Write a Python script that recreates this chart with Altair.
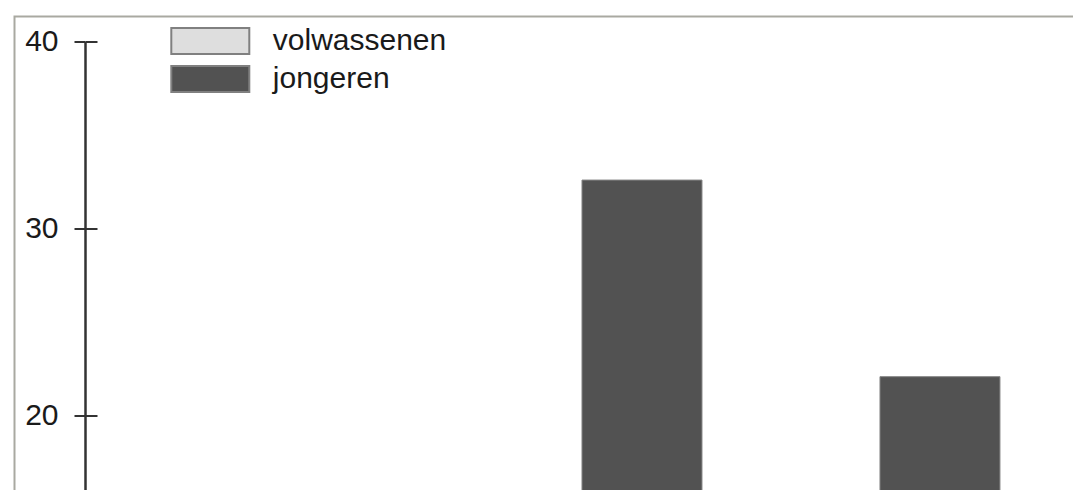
import altair as alt
import pandas as pd

# series and categories
series = ["volwassenen", "jongeren"]
groups = ["groep 2", "groep 3"]

# visible bars (the rest of the chart lies below the cropped area)
bar_group = ["groep 2", "groep 3"]
bar_series = ["jongeren", "jongeren"]
bar_values = [32.6, 22.1]

y_ticks = [20, 30, 40]
colors = ["#dedede", "#525252"]

df = pd.DataFrame({"groep": bar_group, "reeks": bar_series, "waarde": bar_values})

W, H = 1062, 477
y_min, y_max = 15.86, 41.335
FONT = "Liberation Sans"
FS = 30

yscale = alt.Scale(domain=[y_min, y_max], zero=False, nice=False)
xscale = alt.Scale(domain=groups, paddingInner=0, paddingOuter=0.782, align=0.898)
offscale = alt.Scale(domain=series, paddingInner=0, paddingOuter=0.2417)

bars = alt.Chart(df).mark_bar(clip=True, stroke="#858585", strokeWidth=1).encode(
    x=alt.X("groep:N", scale=xscale, axis=None),
    xOffset=alt.XOffset("reeks:N", scale=offscale),
    y=alt.Y(
        "waarde:Q",
        scale=yscale,
        axis=alt.Axis(
            orient="left", offset=-70.5, values=y_ticks, domain=False,
            tickSize=11, tickWidth=2, tickColor="#333",
            labelFontSize=FS, labelFont=FONT, labelColor="#1a1a1a",
            labelPadding=16, grid=False, title=None,
        ),
    ),
    color=alt.Color(
        "reeks:N",
        scale=alt.Scale(domain=series, range=colors),
        legend=alt.Legend(
            title=None, orient="none", legendX=180.8, legendY=9.5,
            symbolType="M-3,-1H3V1H-3Z", symbolSize=676,
            symbolStrokeColor="#808080", symbolStrokeWidth=2, symbolOpacity=1,
            labelFontSize=FS, labelFont=FONT, labelColor="#1a1a1a",
            labelOffset=47.5, rowPadding=4, padding=0, labelLimit=400,
        ),
    ),
)

axis_right = alt.Chart(df).mark_bar(opacity=0, clip=True).encode(
    y=alt.Y(
        "waarde:Q",
        scale=yscale,
        axis=alt.Axis(
            orient="right", offset=-991.5, values=y_ticks, labels=False,
            tickSize=12, tickWidth=2, tickColor="#333",
            domain=True, domainColor="#333", domainWidth=2.5,
            domainDash=[452, 200], grid=False, title=None,
        ),
    ),
)

chart = (
    alt.layer(bars, axis_right)
    .resolve_axis(y="independent")
    .properties(
        width=W, height=H,
        autosize=alt.AutoSizeParams(type="none"),
        padding={"left": 6.5, "top": 8.5, "right": -4, "bottom": 0},
        background="white",
    )
    .configure_view(stroke="#a9a9a1", strokeWidth=2)
)

chart.save("out.html", embed_options={"renderer": "svg", "actions": False})
